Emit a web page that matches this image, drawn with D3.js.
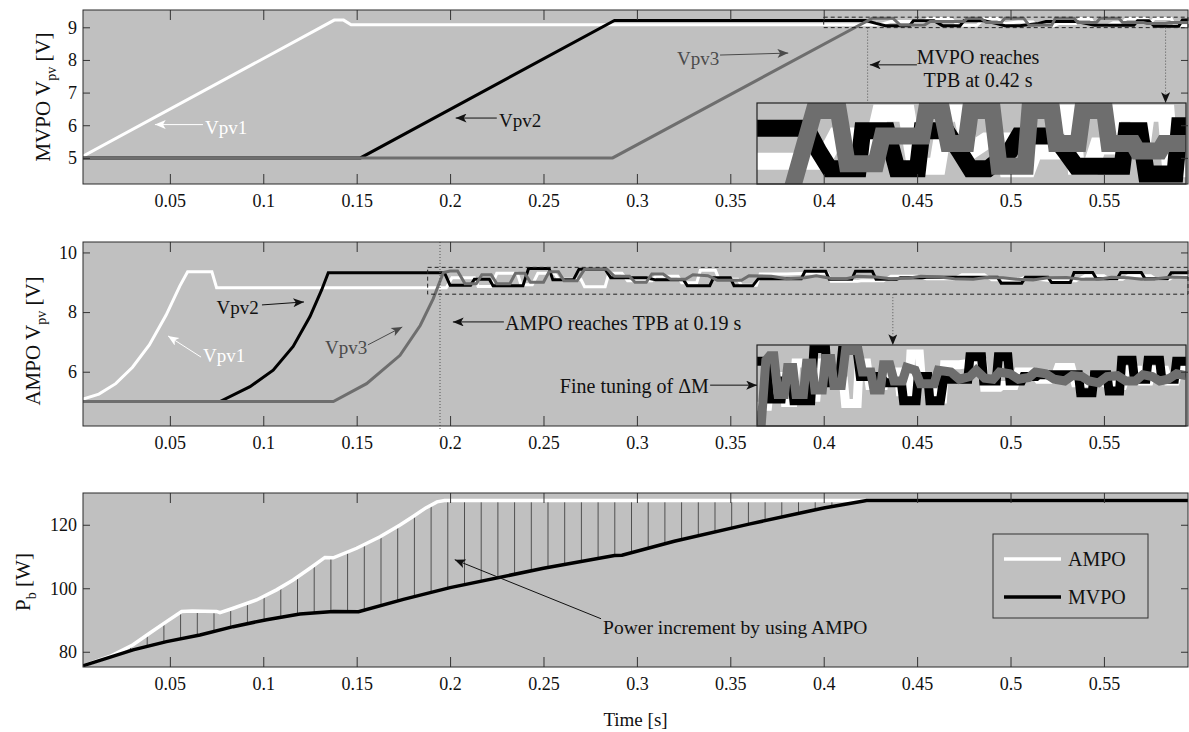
<!DOCTYPE html>
<html>
<head>
<meta charset="utf-8">
<script src="https://cdn.jsdelivr.net/npm/d3@7"></script>
<style>
  body { margin: 0; background: #fff; }
  svg text { font-family: "Liberation Serif", "Times New Roman", serif; }
</style>
</head>
<body>
<svg id="chart" width="1189" height="732"></svg>
<script>
  // ---- data ----
  const xTicks = [0.05, 0.1, 0.15, 0.2, 0.25, 0.3, 0.35, 0.4, 0.45, 0.5, 0.55];
  const mvpoTicks = [5, 6, 7, 8, 9];
  const ampoTicks = [6, 8, 10];
  const powerTicks = [80, 100, 120];

  // MVPO panel, [time s, Vpv V]
  const mvpoV1 = [[0.0035,5.05],[0.138,9.22],[0.143,9.22],[0.147,9.08],[0.430,9.08],[0.436,9.18],[0.447,9.18],
    [0.452,9.12],[0.456,9.27],[0.468,9.27],[0.472,9.06],[0.482,9.06],[0.486,9.27],[0.493,9.27],[0.497,9.12],
    [0.504,9.16],[0.512,9.16],[0.514,9.05],[0.523,9.05],[0.526,9.12],[0.535,9.12],[0.537,9.27],[0.543,9.27],
    [0.545,9.06],[0.552,9.06],[0.555,9.14],[0.560,9.14],[0.562,9.27],[0.573,9.27],[0.575,9.14],[0.577,9.27],
    [0.586,9.27],[0.588,9.05],[0.595,9.05]];
  const mvpoV2 = [[0.0035,5.0],[0.152,5.0],[0.288,9.21],[0.4225,9.21],[0.428,9.12],[0.433,9.05],[0.446,9.05],
    [0.448,9.2],[0.459,9.2],[0.4636,9.05],[0.473,9.05],[0.475,9.2],[0.486,9.2],[0.492,9.12],[0.497,9.05],
    [0.505,9.05],[0.515,9.12],[0.519,9.18],[0.535,9.18],[0.540,9.12],[0.545,9.06],[0.566,9.06],[0.568,9.2],
    [0.574,9.2],[0.577,9.03],[0.590,9.03],[0.592,9.22],[0.595,9.22]];
  const mvpoV3 = [[0.0035,5.0],[0.287,5.0],[0.426,9.28],[0.437,9.28],[0.441,9.07],[0.454,9.07],[0.457,9.18],
    [0.475,9.18],[0.477,9.28],[0.484,9.28],[0.487,9.15],[0.495,9.15],[0.497,9.28],[0.507,9.28],[0.510,9.06],
    [0.522,9.06],[0.524,9.28],[0.534,9.28],[0.536,9.15],[0.546,9.15],[0.548,9.28],[0.558,9.28],[0.560,9.15],
    [0.571,9.15],[0.573,9.12],[0.583,9.12],[0.585,9.15],[0.595,9.15]];

  // AMPO panel, [time s, Vpv V]
  const ampoV1 = [[0.0035,5.08],[0.012,5.25],[0.021,5.6],[0.030,6.15],[0.039,6.9],[0.048,7.9],[0.0553,8.87],
    [0.0595,9.35],[0.0725,9.35],[0.075,8.82],[0.198,8.82],[0.201,9.15],[0.213,9.15],[0.215,8.86],[0.222,8.86],
    [0.225,9.3],[0.236,9.3],[0.238,8.92],[0.244,8.92],[0.247,9.3],[0.256,9.3],[0.258,9.1],[0.270,9.1],
    [0.272,8.85],[0.283,8.85],[0.285,9.3],[0.292,9.3],[0.295,9.05],[0.308,9.05],[0.310,9.2],[0.322,9.2],
    [0.324,8.98],[0.332,8.98],[0.334,9.4],[0.342,9.4],[0.344,9.1],[0.354,9.1],[0.356,8.9],[0.364,8.9],
    [0.366,9.28],[0.380,9.28],[0.392,9.3],[0.402,9.3],[0.404,9.03],[0.418,9.03],[0.420,9.05],[0.432,9.05],
    [0.436,9.2],[0.450,9.2],[0.455,9.12],[0.470,9.12],[0.474,9.25],[0.486,9.25],[0.490,9.08],[0.504,9.08],
    [0.507,9.15],[0.515,9.1],[0.522,9.05],[0.535,9.05],[0.540,9.22],[0.550,9.22],[0.553,9.1],[0.560,9.1],
    [0.563,9.22],[0.575,9.22],[0.578,9.1],[0.585,9.1],[0.588,9.22],[0.595,9.22]];
  const ampoV2 = [[0.0035,5.0],[0.0768,5.0],[0.0929,5.5],[0.1053,6.05],[0.116,6.85],[0.125,7.85],[0.1313,8.75],
    [0.1348,9.32],[0.197,9.32],[0.200,8.9],[0.211,8.9],[0.213,9.1],[0.221,9.1],[0.223,8.88],[0.239,8.88],
    [0.242,9.46],[0.253,9.46],[0.255,9.08],[0.266,9.08],[0.269,9.44],[0.283,9.44],[0.286,9.15],[0.305,9.15],
    [0.310,9.08],[0.325,9.08],[0.327,8.88],[0.339,8.88],[0.341,9.15],[0.350,9.15],[0.352,8.88],[0.362,8.88],
    [0.365,9.12],[0.388,9.12],[0.390,9.37],[0.401,9.37],[0.403,9.1],[0.415,9.1],[0.417,9.37],[0.426,9.37],
    [0.428,9.1],[0.439,9.1],[0.441,9.15],[0.453,9.15],[0.455,9.17],[0.493,9.17],[0.495,8.97],[0.506,8.97],
    [0.508,9.17],[0.520,9.17],[0.522,8.99],[0.532,8.99],[0.534,9.33],[0.544,9.33],[0.546,9.12],[0.557,9.12],
    [0.559,9.33],[0.570,9.33],[0.572,9.12],[0.584,9.12],[0.586,9.32],[0.595,9.32]];
  const ampoV3 = [[0.0035,5.0],[0.1375,5.0],[0.1553,5.6],[0.1732,6.55],[0.184,7.55],[0.191,8.45],[0.1964,9.33],
    [0.200,9.38],[0.204,9.38],[0.208,8.95],[0.214,8.95],[0.217,9.25],[0.222,9.25],[0.225,8.95],[0.232,8.95],
    [0.235,9.3],[0.240,9.3],[0.243,9.0],[0.250,9.0],[0.253,9.35],[0.258,9.35],[0.261,9.05],[0.268,9.05],
    [0.272,9.44],[0.284,9.44],[0.288,9.2],[0.296,9.2],[0.299,9.0],[0.305,9.0],[0.308,9.28],[0.314,9.28],
    [0.318,9.1],[0.326,9.1],[0.330,9.25],[0.338,9.22],[0.343,9.07],[0.356,9.07],[0.360,9.22],[0.372,9.2],
    [0.380,9.12],[0.390,9.15],[0.396,9.22],[0.404,9.13],[0.412,9.12],[0.418,9.2],[0.428,9.18],[0.436,9.12],
    [0.446,9.14],[0.452,9.2],[0.462,9.18],[0.470,9.12],[0.480,9.1],[0.487,9.16],[0.496,9.15],[0.503,9.1],
    [0.512,9.08],[0.520,9.15],[0.530,9.16],[0.538,9.1],[0.547,9.1],[0.554,9.17],[0.563,9.15],[0.570,9.1],
    [0.578,9.12],[0.586,9.18],[0.595,9.16]];

  // output power, [time s, Pb W]
  const powerAmpo = [[0.0035,75.6],[0.0178,78.5],[0.0303,82.2],[0.0393,85.9],[0.0482,89.5],[0.0563,92.7],
    [0.062,92.8],[0.075,92.7],[0.0768,92.3],[0.0839,93.7],[0.0964,96.3],[0.1071,99.5],[0.116,102.6],
    [0.125,106.3],[0.133,109.7],[0.1375,109.6],[0.15,112.6],[0.1625,116.2],[0.1732,119.9],[0.18,122.5],
    [0.187,125.3],[0.193,127.2],[0.197,127.6],[0.595,127.6]];
  const powerMvpo = [[0.0035,75.6],[0.0303,80.6],[0.0482,83.2],[0.0661,85.3],[0.0839,87.9],[0.1018,90.1],
    [0.1196,91.9],[0.1375,92.7],[0.151,92.6],[0.175,96.5],[0.2,100.2],[0.25,106.3],[0.288,110.3],
    [0.292,110.4],[0.32,114.8],[0.36,120.2],[0.40,125.3],[0.423,127.6],[0.595,127.6]];

  // ---- layout ----
  const svg = d3.select("#chart");
  const defs = svg.append("defs");
  const left = 83, right = 1188;
  const panelBg = "#c0c0c0";
  const white = "#ffffff", black = "#000000", gray = "#6e6e6e", annGray = "#4a4a4a";

  const x = d3.scaleLinear().domain([0.0035, 0.595]).range([left, right]);

  function arrowMarker(id, color) {
    defs.append("marker")
      .attr("id", id)
      .attr("viewBox", "0 0 12 10")
      .attr("refX", 12).attr("refY", 5)
      .attr("markerWidth", 12).attr("markerHeight", 9)
      .attr("markerUnits", "userSpaceOnUse")
      .attr("orient", "auto")
      .append("path").attr("d", "M0,0L12,5L0,10L3,5Z").attr("fill", color);
  }
  arrowMarker("arW", white);
  arrowMarker("arK", "#111");
  arrowMarker("arG", annGray);

  function panel(id, top, bottom, domain) {
    const y = d3.scaleLinear().domain(domain).range([bottom, top]);
    svg.append("rect")
      .attr("x", left).attr("y", top)
      .attr("width", right - left).attr("height", bottom - top)
      .attr("fill", panelBg);
    defs.append("clipPath").attr("id", "clip-" + id)
      .append("rect")
      .attr("x", left).attr("y", top)
      .attr("width", right - left).attr("height", bottom - top);
    const g = svg.append("g").attr("clip-path", "url(#clip-" + id + ")");
    return {y, g, top, bottom};
  }

  function axes(p, yTicks) {
    const ax = svg.append("g");
    ax.append("g").attr("transform", "translate(0," + p.bottom + ")")
      .call(d3.axisBottom(x).tickValues(xTicks).tickSizeInner(-10).tickSizeOuter(0)
        .tickPadding(10).tickFormat(d => d));
    ax.append("g").attr("transform", "translate(0," + p.top + ")")
      .call(d3.axisTop(x).tickValues(xTicks).tickSizeInner(-10).tickSizeOuter(0).tickFormat(""));
    ax.append("g").attr("transform", "translate(" + left + ",0)")
      .call(d3.axisLeft(p.y).tickValues(yTicks).tickSizeInner(-7).tickSizeOuter(0)
        .tickPadding(6).tickFormat(d => d));
    ax.append("g").attr("transform", "translate(" + right + ",0)")
      .call(d3.axisRight(p.y).tickValues(yTicks).tickSizeInner(-7).tickSizeOuter(0).tickFormat(""));
    ax.selectAll(".domain").remove();
    ax.selectAll("line").attr("stroke", "#333");
    ax.selectAll("text").attr("font-size", 18).attr("fill", "#111");
    svg.append("rect")
      .attr("x", left).attr("y", p.top)
      .attr("width", right - left).attr("height", p.bottom - p.top)
      .attr("fill", "none").attr("stroke", "#2a2a2a").attr("stroke-width", 1);
  }

  function lineOf(xs, ys) {
    return d3.line().x(d => xs(d[0])).y(d => ys(d[1]));
  }

  function series(g, xs, ys, list, width) {
    list.forEach(([data, color]) => {
      g.append("path").datum(data)
        .attr("d", lineOf(xs, ys))
        .attr("fill", "none")
        .attr("stroke", color)
        .attr("stroke-width", width)
        .attr("stroke-linejoin", "miter")
        .attr("stroke-miterlimit", 3);
    });
  }

  function inset(id, p, box, rect, list, width) {
    // dashed box around the zoomed region in the panel
    svg.append("rect")
      .attr("x", x(box[0])).attr("y", p.y(box[3]))
      .attr("width", x(box[1]) - x(box[0])).attr("height", p.y(box[2]) - p.y(box[3]))
      .attr("fill", "none").attr("stroke", "#222").attr("stroke-width", 1)
      .attr("stroke-dasharray", "4,3");
    const xi = d3.scaleLinear().domain([box[0], box[1]]).range([rect[0], rect[2]]);
    const yi = d3.scaleLinear().domain([box[2], box[3]]).range([rect[3], rect[1]]);
    svg.append("rect")
      .attr("x", rect[0]).attr("y", rect[1])
      .attr("width", rect[2] - rect[0]).attr("height", rect[3] - rect[1])
      .attr("fill", panelBg);
    defs.append("clipPath").attr("id", "clip-" + id)
      .append("rect")
      .attr("x", rect[0]).attr("y", rect[1])
      .attr("width", rect[2] - rect[0]).attr("height", rect[3] - rect[1]);
    const g = svg.append("g").attr("clip-path", "url(#clip-" + id + ")");
    series(g, xi, yi, list, width);
    svg.append("rect")
      .attr("x", rect[0]).attr("y", rect[1])
      .attr("width", rect[2] - rect[0]).attr("height", rect[3] - rect[1])
      .attr("fill", "none").attr("stroke", "#222").attr("stroke-width", 1.2);
  }

  function arrow(p, from, to, marker, color) {
    svg.append("line")
      .attr("x1", x(from[0])).attr("y1", p.y(from[1]))
      .attr("x2", x(to[0])).attr("y2", p.y(to[1]))
      .attr("stroke", color).attr("stroke-width", 1)
      .attr("marker-end", "url(#" + marker + ")");
  }

  function label(p, at, txt, color, size, anchor) {
    return svg.append("text")
      .attr("x", x(at[0])).attr("y", p.y(at[1]))
      .attr("dy", "0.35em")
      .attr("text-anchor", anchor || "start")
      .attr("font-size", size)
      .attr("fill", color)
      .text(txt);
  }

  function dotted(xPos, y1, y2, marker) {
    const l = svg.append("line")
      .attr("x1", xPos).attr("x2", xPos).attr("y1", y1).attr("y2", y2)
      .attr("stroke", "#555").attr("stroke-width", 1).attr("stroke-dasharray", "1,2");
    if (marker) l.attr("marker-end", "url(#" + marker + ")");
  }

  function yTitle(xPos, yPos, main, sub, tail) {
    const t = svg.append("text")
      .attr("transform", "translate(" + xPos + "," + yPos + ") rotate(-90)")
      .attr("text-anchor", "middle")
      .attr("font-size", 21)
      .attr("fill", "#111");
    t.append("tspan").text(main);
    t.append("tspan").attr("font-size", 14).attr("dy", "0.4em").text(sub);
    t.append("tspan").attr("dy", "-0.27em").text(tail);
  }

  // ---- panel 1 : MVPO ----
  const p1 = panel("p1", 10, 184, [4.2, 9.53]);
  const mvpoList = [[mvpoV1, white], [mvpoV2, black], [mvpoV3, gray]];
  series(p1.g, x, p1.y, mvpoList, 3);
  const box1 = [0.4, 0.595, 8.99, 9.31];
  inset("in1", p1, box1, [757, 103, 1186, 184], mvpoList, 17);
  dotted(x(0.4235), p1.y(box1[2]), 103);
  dotted(x(0.583), p1.y(box1[2]), 103, "arK");
  arrow(p1, [0.0677, 6.02], [0.042, 6.02], "arW", white);
  label(p1, [0.0688, 5.95], "Vpv1", white, 19);
  arrow(p1, [0.225, 6.22], [0.203, 6.22], "arK", "#111");
  label(p1, [0.2262, 6.15], "Vpv2", "#111", 19);
  arrow(p1, [0.3445, 8.15], [0.381, 8.21], "arG", annGray);
  label(p1, [0.3215, 8.05], "Vpv3", annGray, 19);
  arrow(p1, [0.4499, 7.85], [0.4247, 7.85], "arK", "#111");
  label(p1, [0.4826, 8.1], "MVPO reaches", "#111", 20, "middle");
  label(p1, [0.4826, 7.4], "TPB at 0.42 s", "#111", 20, "middle");
  axes(p1, mvpoTicks);
  yTitle(50, 97, "MVPO V", "pv", " [V]");

  // ---- panel 2 : AMPO ----
  const p2 = panel("p2", 242, 426, [4.18, 10.35]);
  const ampoList = [[ampoV1, white], [ampoV2, black], [ampoV3, gray]];
  series(p2.g, x, p2.y, ampoList, 3);
  const box2 = [0.188, 0.595, 8.6, 9.5];
  inset("in2", p2, box2, [757, 345, 1186, 426], ampoList, 9);
  dotted(x(0.1946), 242, 430);
  dotted(x(0.437), p2.y(box2[2]), 345, "arK");
  arrow(p2, [0.0667, 6.49], [0.049, 7.2], "arW", white);
  label(p2, [0.0677, 6.55], "Vpv1", white, 19);
  arrow(p2, [0.0993, 8.24], [0.1218, 8.34], "arK", "#111");
  label(p2, [0.075, 8.16], "Vpv2", "#111", 19);
  arrow(p2, [0.156, 6.9], [0.1744, 7.5], "arG", annGray);
  label(p2, [0.133, 6.82], "Vpv3", annGray, 19);
  arrow(p2, [0.2288, 7.67], [0.2015, 7.67], "arK", "#111");
  label(p2, [0.2294, 7.62], "AMPO reaches TPB at 0.19 s", "#111", 20);
  arrow(p2, [0.3392, 5.55], [0.3643, 5.55], "arK", "#111");
  label(p2, [0.3385, 5.52], "Fine tuning of \u0394M", "#111", 20, "end");
  axes(p2, ampoTicks);
  yTitle(40, 341, "AMPO V", "pv", " [V]");

  // ---- panel 3 : output power ----
  const p3 = panel("p3", 493, 667, [75.2, 130]);
  defs.append("pattern").attr("id", "hatch")
    .attr("patternUnits", "userSpaceOnUse")
    .attr("x", 146.7).attr("y", 0)
    .attr("width", 16.7).attr("height", 10)
    .append("line")
    .attr("x1", 0.5).attr("x2", 0.5).attr("y1", 0).attr("y2", 10)
    .attr("stroke", "#4e4e4e").attr("stroke-width", 1);
  const gap = powerAmpo.concat(powerMvpo.slice().reverse());
  p3.g.append("path").datum(gap)
    .attr("d", lineOf(x, p3.y).curve(d3.curveLinearClosed))
    .attr("fill", "url(#hatch)").attr("stroke", "none");
  series(p3.g, x, p3.y, [[powerAmpo, white], [powerMvpo, black]], 3.5);
  arrow(p3, [0.2808, 90.4], [0.2025, 109.0], "arK", "#111");
  label(p3, [0.2819, 87.8], "Power increment by using AMPO", "#111", 19.5);
  axes(p3, powerTicks);
  yTitle(30, 582, "P", "b", " [W]");

  // legend
  const lg = svg.append("g").attr("transform", "translate(993,534)");
  lg.append("rect").attr("width", 155).attr("height", 84)
    .attr("fill", panelBg).attr("stroke", "#333").attr("stroke-width", 1);
  [["AMPO", white, 25], ["MVPO", black, 63]].forEach(([name, color, yy]) => {
    lg.append("line").attr("x1", 11).attr("x2", 68).attr("y1", yy).attr("y2", yy)
      .attr("stroke", color).attr("stroke-width", 3.5);
    lg.append("text").attr("x", 75).attr("y", yy).attr("dy", "0.35em")
      .attr("font-size", 20).attr("fill", "#111").text(name);
  });

  svg.append("text")
    .attr("x", (left + right) / 2).attr("y", 719).attr("dy", "0.35em")
    .attr("text-anchor", "middle").attr("font-size", 19).attr("fill", "#111")
    .text("Time [s]");
</script>
</body>
</html>
